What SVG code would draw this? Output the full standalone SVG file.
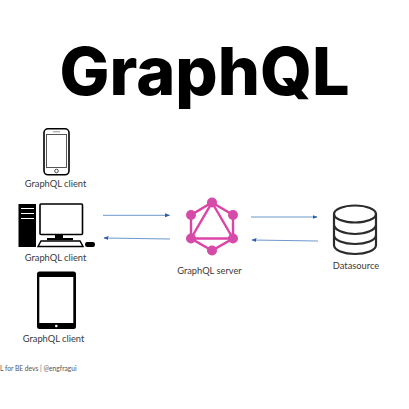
<svg xmlns="http://www.w3.org/2000/svg" width="409" height="409" viewBox="0 0 409 409">
<style>
.l{font-family:Lato,"Liberation Sans",sans-serif;font-size:9.3px;fill:#3a3a3a;text-anchor:middle}
.k{fill:none;stroke:#000;stroke-width:1.6}
.c{fill:none;stroke:#5b8cc4;stroke-width:.9;marker-end:url(#a)}
.p{stroke:#dc44a8;stroke-width:2.4;fill:none}
.n{fill:#d64aa8}
.d{fill:none;stroke:#2b2b2b;stroke-width:2.2}
</style>
<defs><marker id="a" markerUnits="userSpaceOnUse" markerWidth="5" markerHeight="4" refX="4.500" refY="2" orient="auto"><path d="M0 0L5 2L0 4Z" fill="#2a5ca8"/></marker></defs>
<rect width="409" height="409" fill="#fff"/>
<text x="204.500" y="94.500" font-family="Inter,'Liberation Sans',sans-serif" font-weight="800" font-size="66.500" text-anchor="middle" fill="#000">GraphQL</text>
<g id="connectors">
<path class="c" d="M103 215.300H169.500"/>
<path class="c" d="M170 239L104 238"/>
<path class="c" d="M251 217H317"/>
<path class="c" d="M318 241L252 240"/>
</g>
<g id="phone">
<rect class="k" x="44" y="128.800" width="25" height="46" rx="4" stroke-width="1.800"/>
<rect x="46.500" y="134.500" width="20" height="33" fill="none" stroke="#555" stroke-width="1"/>
<circle cx="56.500" cy="171" r="1.800" fill="none" stroke="#222" stroke-width=".8"/>
<path d="M53 131.800H60" stroke="#777" stroke-width=".8"/>
<text class="l" x="55.500" y="186.500">GraphQL client</text>
</g>
<g id="desktop">
<rect x="18.500" y="204" width="17.500" height="43" fill="#000"/>
<path d="M21 208.500H34M21 213.500H34M21 218.500H34" stroke="#fff" stroke-width="1.200"/>
<rect class="k" x="40" y="204" width="42.500" height="30.500" rx="1" stroke-width="2"/>
<rect x="55" y="235" width="8" height="4" fill="#000"/>
<rect x="47" y="238" width="26" height="2.200" fill="#000"/>
<path d="M38 246.500L41 241H80L83 246.500Z" fill="#fff" stroke="#000" stroke-width="1.500"/>
<rect x="85" y="242" width="10" height="5" rx="2.200" fill="#000"/>
<text class="l" x="55.500" y="260.500">GraphQL client</text>
</g>
<g id="tablet">
<rect x="37" y="271.500" width="39" height="57.500" rx="2.500" fill="#000"/>
<rect x="39.300" y="277" width="34" height="46" fill="#fff"/>
<circle cx="56.300" cy="326" r="1.300" fill="#fff"/>
<text class="l" x="53.500" y="341.500">GraphQL client</text>
</g>
<g id="server">
<path class="p" d="M212 202.500L233 215V238.500L212 250.500L191 238.500V215Z"/>
<path class="p" d="M212 202.500L233 238.500H191Z"/>
<g class="n"><circle cx="212" cy="202.500" r="5"/><circle cx="233" cy="215" r="5"/><circle cx="233" cy="238.500" r="5"/><circle cx="212" cy="250.500" r="5"/><circle cx="191" cy="238.500" r="5"/><circle cx="191" cy="215" r="5"/></g>
<text class="l" x="209.500" y="274">GraphQL server</text>
</g>
<g id="datasource">
<ellipse class="d" cx="355" cy="214" rx="21" ry="8.500"/>
<path class="d" d="M334 214V245C334 250.500 344 254 355 254S376 250.500 376 245V214M334 224.500C334 230 344 234 355 234S376 230 376 224.500M334 235C334 240.500 344 244 355 244S376 240.500 376 235"/>
<text class="l" x="356" y="269">Datasource</text>
</g>
<text x="0" y="371" font-family="Lato,'Liberation Sans',sans-serif" font-size="6.700" fill="#555">L for BE devs | @engfragui</text>
</svg>
